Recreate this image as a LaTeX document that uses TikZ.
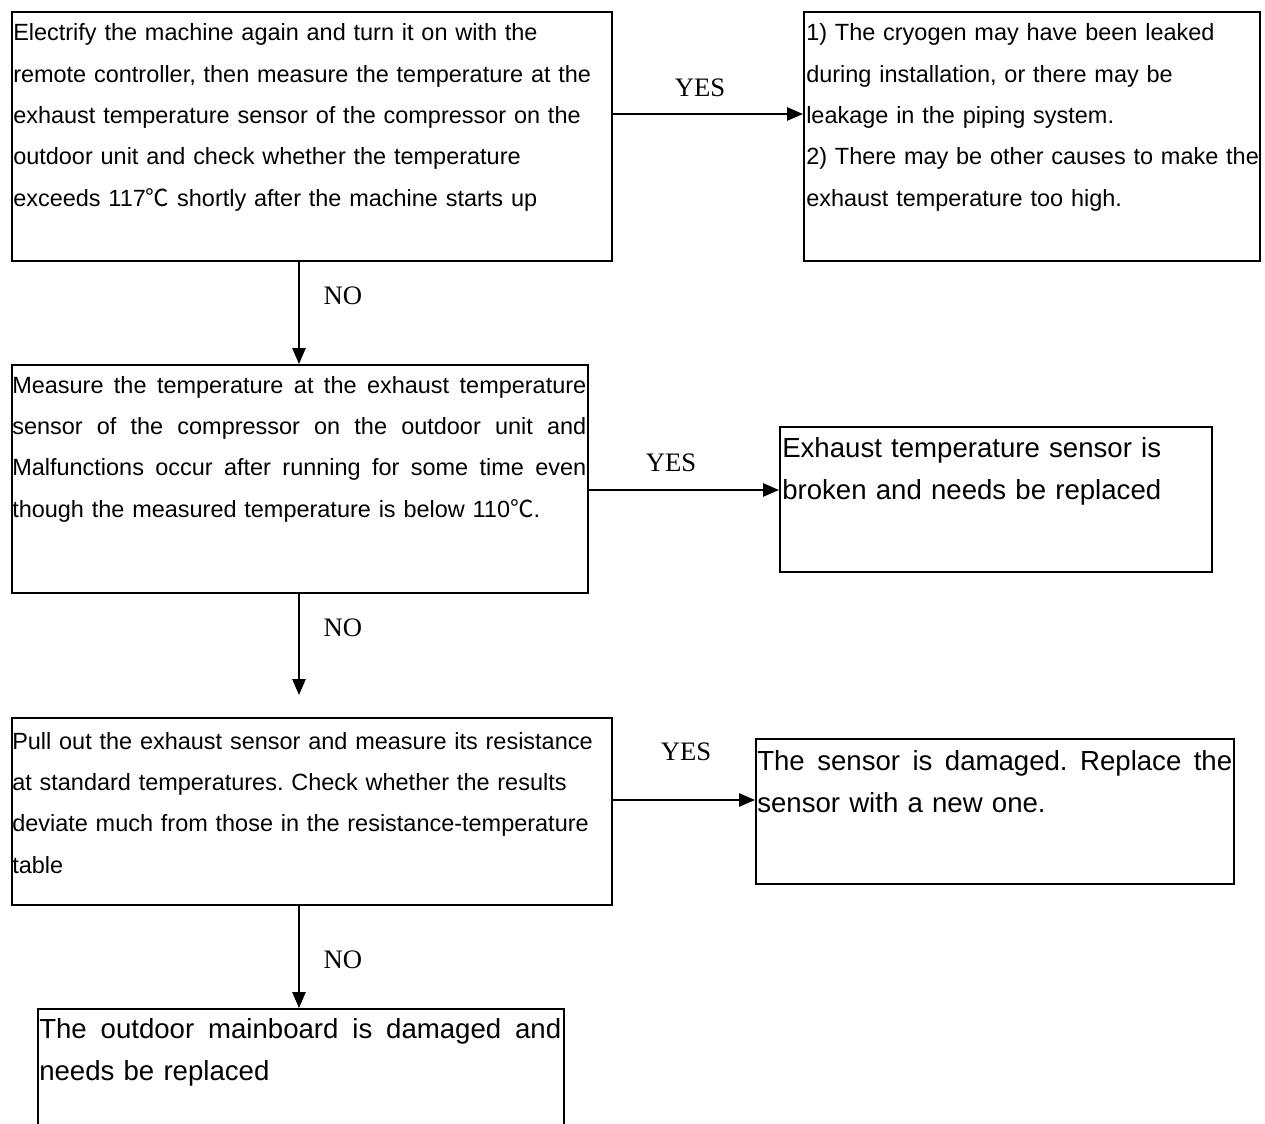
\documentclass[tikz,border=0pt]{standalone}
\usepackage{fontspec}
\setmainfont{Liberation Sans}
\newfontfamily\serifyn{Liberation Serif}
\newfontfamily\cjk{Noto Sans CJK SC}
\usetikzlibrary{arrows.meta}
\newcommand\jline[2]{\leavevmode\hbox to #1{\spaceskip=0.278em plus 1fil\xspaceskip=\spaceskip\relax #2}}
\frenchspacing
\begin{document}
\begin{tikzpicture}[x=0.75pt,y=-0.75pt,
  box/.style={draw, line width=1.5pt, inner sep=0, anchor=north west},
  txt/.style={inner sep=0, anchor=base west, align=left, font=\frenchspacing\fontsize{17.6}{31}\selectfont},
  txtL/.style={inner sep=0, anchor=base west, align=left, font=\frenchspacing\fontsize{20.7}{31.5}\selectfont},
  lbl/.style={font=\serifyn\fontsize{20}{24}\selectfont, inner sep=0},
  arr/.style={line width=1.2pt, -{Triangle[length=12pt,width=10pt]}}]
\useasboundingbox (0,0) rectangle (1265,1124);
\fill[white] (0,0) rectangle (1265,1124);
\clip (0,0) rectangle (1265,1124);
% boxes
\node[box, minimum width=450pt, minimum height=186.75pt] (a) at (11,11) {};
\node[box, minimum width=342pt, minimum height=186.75pt] (b) at (803,11) {};
\node[box, minimum width=432pt, minimum height=171pt] (c) at (11,364) {};
\node[box, minimum width=324pt, minimum height=108.75pt] (d) at (779,426) {};
\node[box, minimum width=450pt, minimum height=140.25pt] (e) at (11,717) {};
\node[box, minimum width=358.5pt, minimum height=108.75pt] (f) at (755,738) {};
\node[box, minimum width=394.5pt, minimum height=105pt] (g) at (37,1008) {};
% texts
\node[txt, text width=470pt] (ta) at (13,41) {Electrify the machine again and turn it on with the\\
remote controller, then measure the temperature at the\\
exhaust temperature sensor of the compressor on the\\
outdoor unit and check whether the temperature\\
exceeds 117{\cjk ℃} shortly after the machine starts up};
\node[txt, text width=360pt] (tb) at (806,41) {1) The cryogen may have been leaked\\
during installation, or there may be\\
leakage in the piping system.\\
2) There may be other causes to make the\\
exhaust temperature too high.};
\node[txt, text width=450pt] (tc) at (12,393) {\jline{430.5pt}{Measure the temperature at the exhaust temperature}\\
\jline{430.5pt}{sensor of the compressor on the outdoor unit and}\\
\jline{430.5pt}{Malfunctions occur after running for some time even}\\
though the measured temperature is below 110{\cjk ℃}.};
\node[txtL, text width=340pt] (td) at (782,457) {Exhaust temperature sensor is\\
broken and needs be replaced};
\node[txt, text width=470pt] (te) at (12,749) {Pull out the exhaust sensor and measure its resistance\\
at standard temperatures. Check whether the results\\
deviate much from those in the resistance-temperature\\
table};
\node[txtL, text width=370pt] (tf) at (757,770.5) {\jline{356.25pt}{The sensor is damaged. Replace the}\\
sensor with a new one.};
\node[txtL, text width=410pt] (tg) at (39,1038.5) {\jline{391.5pt}{The outdoor mainboard is damaged and}\\
needs be replaced};
% labels
\node[lbl] (yes1) at (700,88) {YES};
\node[lbl] (yes2) at (671,463) {YES};
\node[lbl] (yes3) at (686,752) {YES};
\node[lbl] (no1) at (343,296) {NO};
\node[lbl] (no2) at (343,628) {NO};
\node[lbl] (no3) at (343,960) {NO};
% connectors
\coordinate (vx) at (299,0);
\coordinate (h1) at (0,114);
\coordinate (h2) at (0,490);
\coordinate (h3) at (0,800);
\coordinate (vend) at (299,695);
\draw[arr] (a.east |- h1) -- (b.west |- h1);
\draw[arr] (a.south -| vx) -- (c.north -| vx);
\draw[arr] (c.east |- h2) -- (d.west |- h2);
\draw[arr] (c.south -| vx) -- (vend);
\draw[arr] (e.east |- h3) -- (f.west |- h3);
\draw[arr] (e.south -| vx) -- (g.north -| vx);
\end{tikzpicture}
\end{document}
